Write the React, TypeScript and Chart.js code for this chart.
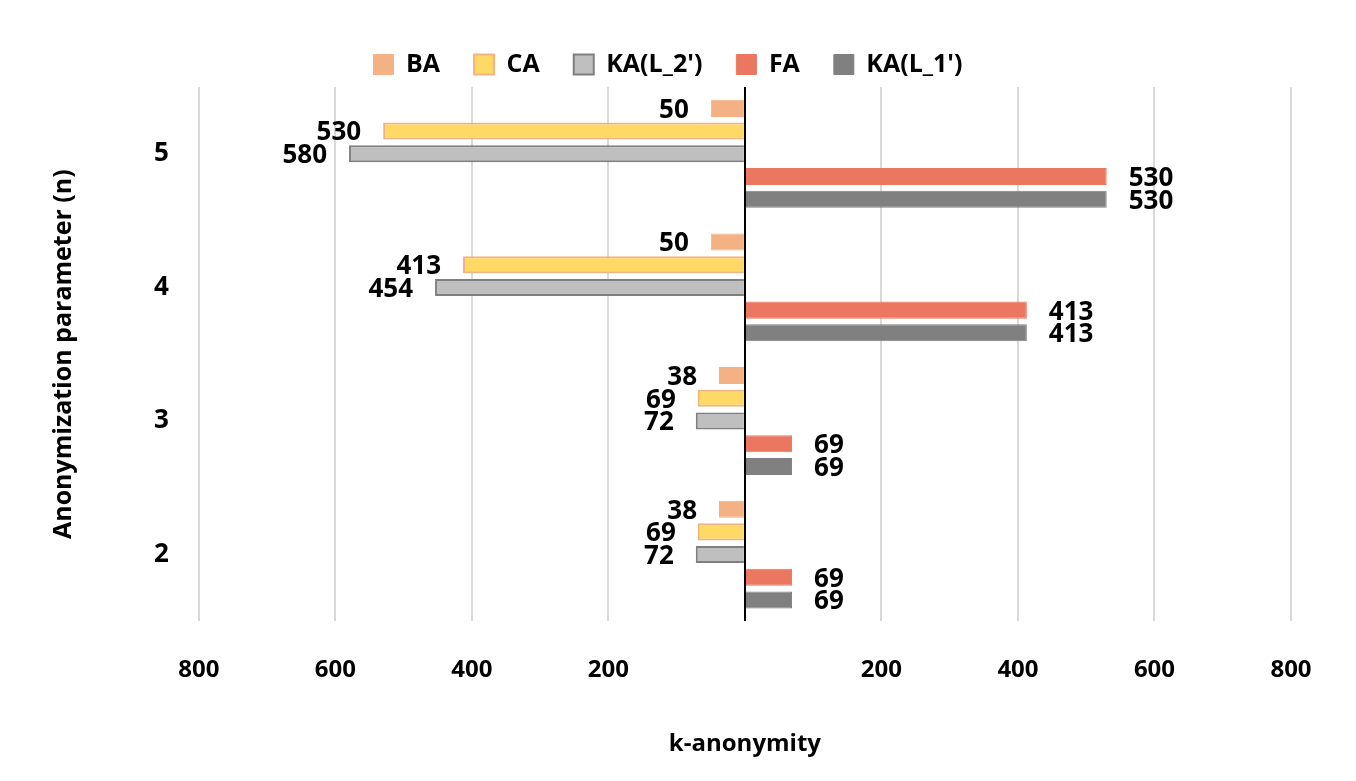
import React, { useEffect, useRef } from 'react';
import { Chart, registerables } from 'chart.js';

Chart.register(...registerables);

const categories = ['5', '4', '3', '2'];
const baValues = [-50, -50, -38, -38];
const caValues = [-530, -413, -69, -69];
const ka2Values = [-580, -454, -72, -72];
const faValues = [530, 413, 69, 69];
const ka1Values = [530, 413, 69, 69];

const FONT = "'Open Sans', 'Liberation Sans', sans-serif";

const valueLabels = {
  id: 'valueLabels',
  afterDatasetsDraw(chart: any) {
    const ctx = chart.ctx;
    ctx.save();
    ctx.font = `bold 26px ${FONT}`;
    ctx.fillStyle = '#000';
    ctx.textBaseline = 'middle';
    chart.data.datasets.forEach((ds: any, i: number) => {
      const meta = chart.getDatasetMeta(i);
      meta.data.forEach((bar: any, j: number) => {
        const v = ds.data[j];
        if (v < 0) {
          ctx.textAlign = 'right';
          ctx.fillText(String(-v), bar.x - 22, bar.y + 2);
        } else {
          ctx.textAlign = 'left';
          ctx.fillText(String(v), bar.x + 22, bar.y + 2);
        }
      });
    });
    ctx.restore();
  },
};

export default function App() {
  const canvasRef = useRef<HTMLCanvasElement>(null);

  useEffect(() => {
    document.body.style.margin = '0';
    if (!canvasRef.current) return;
    const chart = new Chart(canvasRef.current, {
      type: 'bar',
      data: {
        labels: categories,
        datasets: [
          { label: 'BA', data: baValues, backgroundColor: '#F4B183', borderColor: '#F4B183', borderWidth: 1 },
          { label: 'CA', data: caValues, backgroundColor: '#FFD966', borderColor: '#F4B183', borderWidth: 2 },
          { label: "KA(L_2')", data: ka2Values, backgroundColor: '#BFBFBF', borderColor: '#7F7F7F', borderWidth: 2 },
          { label: 'FA', data: faValues, backgroundColor: '#EB7760', borderColor: '#EB7760', borderWidth: 1 },
          { label: "KA(L_1')", data: ka1Values, backgroundColor: '#808080', borderColor: '#808080', borderWidth: 1 },
        ],
      },
      options: {
        indexAxis: 'y',
        animation: false,
        responsive: true,
        maintainAspectRatio: false,
        categoryPercentage: 0.85,
        barPercentage: 0.75,
        layout: { padding: { top: 18, right: 65, left: 45, bottom: 18 } },
        plugins: {
          tooltip: { enabled: false },
          legend: {
            position: 'top',
            labels: {
              font: { family: FONT, size: 25, weight: 'bold' },
              color: '#000',
              boxWidth: 20,
              boxHeight: 20,
              padding: 34,
            },
          },
        },
        scales: {
          x: {
            min: -800,
            max: 800,
            ticks: {
              stepSize: 200,
              color: '#000',
              font: { family: FONT, size: 24, weight: 'bold' },
              padding: 34,
              callback: (v: any) => (v === 0 ? '' : String(Math.abs(v))),
            },
            grid: {
              drawTicks: false,
              color: (c: any) => (c.tick && c.tick.value === 0 ? '#000' : '#D9D9D9'),
              lineWidth: 2,
            },
            border: { display: false },
            title: {
              display: true,
              text: 'k-anonymity',
              color: '#000',
              font: { family: FONT, size: 24, weight: 'bold' },
              padding: { top: 12 },
            },
          },
          y: {
            ticks: {
              color: '#000',
              font: { family: FONT, size: 26, weight: 'bold' },
              padding: 30,
            },
            grid: { display: false, drawTicks: false },
            border: { display: false },
            title: {
              display: true,
              text: 'Anonymization parameter (n)',
              color: '#000',
              font: { family: FONT, size: 25, weight: 'bold' },
              padding: { bottom: 45 },
            },
          },
        },
      },
      plugins: [valueLabels],
    });
    return () => chart.destroy();
  }, []);

  return (
    <div style={{ width: 1356, height: 781, position: 'relative' }}>
      <canvas ref={canvasRef}></canvas>
    </div>
  );
}
